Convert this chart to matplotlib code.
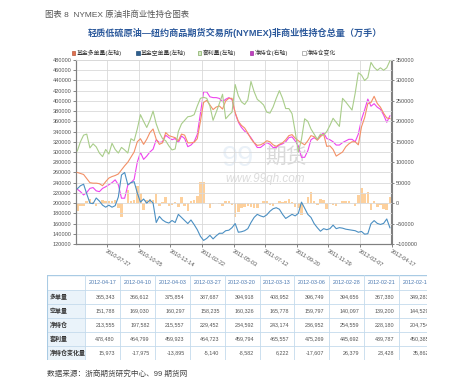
import matplotlib
matplotlib.use('Agg')
import matplotlib.pyplot as plt
import numpy as np
import pandas as pd
from matplotlib.patches import Rectangle

plt.rcParams['font.family'] = ['Liberation Sans', 'Noto Sans CJK SC', 'DejaVu Sans']

# ---------------- data ----------------
dates = pd.date_range('2010-05-25', periods=100, freq='7D')

long_pos = [260000, 258000, 256000, 248000, 240000, 239000, 239000, 238000, 234000, 242000,
            249000, 252000, 254000, 257000, 265000, 273000, 280000, 290000, 300000, 320000,
            326000, 315000, 325000, 338000, 345000, 325000, 315000, 318000, 338000, 332000,
            330000, 328000, 322000, 335000, 333000, 318000, 318000, 319000, 326000, 360000,
            397000, 401000, 392000, 383000, 388000, 390000, 384000, 400000, 405000, 405000,
            377000, 360000, 352000, 347000, 337000, 326000, 318000, 313000, 314000, 317000,
            322000, 320000, 314000, 311000, 315000, 318000, 324000, 332000, 334000, 327000,
            322000, 318000, 314000, 322000, 332000, 330000, 323000, 330000, 335000, 311000,
            312000, 305000, 292000, 296000, 300000, 310000, 316000, 320000, 320000, 314000,
            349283, 367380, 394656, 396749, 408952, 394918, 387687, 375854, 366612, 365343]

short_pos = [228000, 234000, 237000, 218000, 200000, 199000, 210000, 204000, 196000, 192000,
             196000, 192000, 195000, 212000, 255000, 260000, 236000, 240000, 242000, 220000,
             202000, 208000, 200000, 206000, 200000, 162000, 174000, 167000, 163000, 161000,
             166000, 162000, 178000, 172000, 166000, 160000, 167000, 158000, 148000, 135000,
             127000, 131000, 137000, 130000, 136000, 141000, 141000, 146000, 147000, 152000,
             160000, 143000, 144000, 146000, 150000, 162000, 172000, 178000, 175000, 173000,
             177000, 184000, 189000, 191000, 188000, 178000, 170000, 174000, 178000, 175000,
             180000, 202000, 190000, 178000, 172000, 160000, 152000, 145000, 150000, 148000,
             150000, 157000, 150000, 152000, 151000, 149000, 148000, 147000, 146000, 143000,
             144529, 139200, 140097, 159797, 165778, 160326, 158235, 160297, 169030, 151788]

spread_pos = [302000, 320000, 333000, 335000, 308000, 316000, 310000, 298000, 291000, 305000,
              296000, 317000, 305000, 298000, 309000, 304000, 298000, 326000, 322000, 345000,
              373000, 360000, 348000, 362000, 380000, 355000, 338000, 326000, 322000, 312000,
              304000, 306000, 340000, 355000, 362000, 369000, 370000, 373000, 390000, 405000,
              407000, 405000, 390000, 362000, 378000, 395000, 413000, 365000, 372000, 378000,
              432000, 410000, 398000, 393000, 402000, 438000, 418000, 403000, 398000, 392000,
              378000, 376000, 388000, 405000, 420000, 405000, 385000, 385000, 375000, 340000,
              300000, 325000, 365000, 360000, 345000, 335000, 325000, 335000, 333000, 340000,
              352000, 366000, 358000, 350000, 405000, 398000, 390000, 382000, 415000, 455000,
              450385, 439787, 445692, 475269, 465557, 459794, 464723, 459923, 464799, 478480]

net_pos = [34000, 28000, 20000, 26000, 36000, 38000, 30000, 28000, 36000, 40000,
           45000, 50000, 57000, 45000, 12000, 12000, 44000, 50000, 58000, 100000,
           124000, 107000, 115000, 125000, 132000, 155000, 148000, 150000, 166000, 160000,
           155000, 158000, 148000, 164000, 158000, 138000, 142000, 150000, 168000, 220000,
           272000, 272000, 260000, 258000, 258000, 256000, 248000, 254000, 258000, 253000,
           220000, 198000, 185000, 176000, 170000, 160000, 148000, 136000, 136000, 142000,
           148000, 144000, 136000, 136000, 142000, 145000, 150000, 160000, 162000, 152000,
           140000, 112000, 112000, 128000, 155000, 160000, 155000, 165000, 172000, 158000,
           155000, 150000, 142000, 142000, 148000, 152000, 156000, 156000, 150000, 169000,
           204754, 228180, 254559, 236952, 243174, 234592, 229452, 215557, 197582, 213555]

net_chg = [-20000, -6000, -8000, 6000, 10000, 2000, -8000, -2000, 8000, 4000,
           5000, 5000, 7000, -12000, -33000, 0, 32000, 6000, 8000, 42000,
           24000, -17000, 8000, 10000, 7000, 23000, -7000, 2000, 16000, -6000,
           -5000, 3000, -10000, 16000, -6000, -20000, 4000, 8000, 18000, 52000,
           52000, 0, -12000, -2000, 0, -2000, -8000, 6000, 4000, -5000,
           -33000, -22000, -13000, -9000, -6000, -10000, -12000, -12000, 0, 6000,
           6000, -4000, -8000, 0, 6000, 3000, 5000, 10000, 2000, -10000,
           -12000, -28000, 0, 16000, 27000, 5000, -5000, 10000, 7000, -14000,
           -3000, -5000, -8000, 0, 6000, 4000, 4000, 0, -6000, 19000,
           35862, 23428, 26379, -17607, 6222, -8582, -5140, -13895, -17975, 15973]

tbl_dates = ['2012-04-17', '2012-04-10', '2012-04-03', '2012-03-27', '2012-03-20',
             '2012-03-13', '2012-03-06', '2012-02-28', '2012-02-21', '2012-02-14']
tbl_labels = ['多单量', '空单量', '净持仓', '套利量', '净持仓变化量']
tbl_long = [365343, 366612, 375854, 387687, 394918, 408952, 396749, 394656, 367380, 349283]
tbl_short = [151788, 169030, 160297, 158235, 160326, 165778, 159797, 140097, 139200, 144529]
tbl_net = [213555, 197582, 215557, 229452, 234592, 243174, 236952, 254559, 228180, 204754]
tbl_spread = [478480, 464799, 459923, 464723, 459794, 465557, 475269, 445692, 439787, 450385]
tbl_chg = [15973, -17975, -13895, -5140, -8582, 6222, -17607, 26379, 23428, 35862]

legend_labels = ['基金多单量(左轴)', '基金空单量(左轴)', '套利量(左轴)', '净持仓(右轴)', '净持仓变化']

# ---------------- figure ----------------
W, H = 474, 386
fig = plt.figure(figsize=(W / 100, H / 100), dpi=100)
fig.patch.set_facecolor('white')

def fx(px):
    return px / W

def fy(py):
    return 1 - py / H

c_long = '#f39066'
c_short = '#4b8fc2'
c_spread = '#a9cd8a'
c_net = '#ee44ee'
c_bar = '#fdd09c'

ax = fig.add_axes([fx(75.7), fy(244), (391.5 - 75.7) / W, 184 / H])
ax2 = ax.twinx()
x = np.arange(len(dates))

# watermark (behind everything)
ax2.text(fx(222), fy(158), '99', transform=fig.transFigure, fontsize=21, color='#eaf1f8',
         va='center', ha='left', zorder=0)
ax2.text(fx(265), fy(157), '期货', transform=fig.transFigure, fontsize=15, color='#d9d9d9',
         va='center', ha='left', zorder=0, family=['Noto Sans CJK SC'])
ax2.text(fx(225), fy(179), 'www.99qh.com', transform=fig.transFigure, fontsize=8.5,
         color='#dcdcdc', style='italic', va='center', ha='left', zorder=0)

ax2.bar(x, net_chg, width=0.8, color=c_bar, zorder=2, linewidth=0)
ax2.plot(x, net_pos, color=c_net, lw=0.8, zorder=3)
ax.plot(x, long_pos, color=c_long, lw=0.8, zorder=3)
ax.plot(x, short_pos, color=c_short, lw=0.8, zorder=3)
ax.plot(x, spread_pos, color=c_spread, lw=0.8, zorder=3)

ax.set_zorder(ax2.get_zorder() + 1)
ax.patch.set_visible(False)

ax.set_xlim(-0.5, len(dates) - 0.5)
ax.set_ylim(120000, 480000)
ax2.set_ylim(-100000, 350000)
ax.set_yticks(range(120000, 480001, 20000))
ax2.set_yticks(range(-100000, 350001, 50000))

tick_idx = list(range(9, len(dates), 10))
ax.set_xticks([i + 0.5 for i in tick_idx])
ax.set_xticklabels([dates[i].strftime('%Y-%m-%d') for i in tick_idx],
                   rotation=-32, ha='left', va='top', rotation_mode='anchor')

ax.grid(True, color='#d9d9d9', lw=0.6)
ax.set_axisbelow(True)

for a in (ax, ax2):
    a.tick_params(axis='both', labelsize=4, colors='#555555', length=2, width=0.5, pad=1)
    for s in a.spines.values():
        s.set_color('#808080')
        s.set_linewidth(0.8)
    a.spines['top'].set_color('#d9d9d9')
    a.spines['top'].set_linewidth(0.6)
ax.tick_params(axis='x', pad=1.5)

# ---------------- header texts ----------------
fig.text(fx(45), fy(14.5), '图表 8  NYMEX 原油非商业性持仓图表', fontsize=6, color='#555555',
         va='center', ha='left')
fig.text(fx(235), fy(33), '轻质低硫原油—纽约商品期货交易所(NYMEX)非商业性持仓总量（万手）',
         fontsize=6.6, color='#2d5a9c', weight='bold', va='center', ha='center')

# ---------------- legend ----------------
leg_x = [71.5, 136.0, 197.5, 250.0, 302.0]
leg_face = ['#e07050', '#2e5e8e', '#d8ebc8', '#c040c0', '#ffffff']
leg_edge = ['#b85a3c', '#24507a', '#80aa60', '#a030a0', '#999999']
for lx, lab, fc, ec in zip(leg_x, legend_labels, leg_face, leg_edge):
    fig.add_artist(Rectangle((fx(lx), fy(54.5)), 3.5 / W, 3.5 / H, transform=fig.transFigure,
                             facecolor=fc, edgecolor=ec, linewidth=0.5))
    fig.text(fx(lx + 5), fy(52.8), lab, fontsize=4.2, color='#333333', va='center', ha='left')

# ---------------- table ----------------
t_left, t_right, t_top, t_bot = 46.7, 427.0, 275.0, 360.0
tax = fig.add_axes([fx(t_left), fy(t_bot), (t_right - t_left) / W, (t_bot - t_top) / H])
tax.set_xlim(t_left, t_right)
tax.set_ylim(t_bot, t_top)
tax.axis('off')

rb = [275, 290, 304, 318, 332, 346, 360]
cw = 34.9
cb = [t_left, 85.0] + [85.0 + cw * (j + 1) for j in range(10)]
line_c = '#c4dbec'

tax.add_patch(Rectangle((t_left, rb[1]), 85.0 - t_left, rb[-1] - rb[1], facecolor='#eaf3fa',
                        edgecolor='none', zorder=0))
for yv in rb:
    tax.plot([t_left, cb[-1]], [yv, yv], color=line_c, lw=0.6, zorder=1, clip_on=True)
tax.plot([t_left, cb[-1]], [rb[0], rb[0]], color='#a9cbe4', lw=1.0, zorder=1)
for xv in cb:
    tax.plot([xv, xv], [rb[0], rb[-1]], color=line_c, lw=0.6, zorder=1, clip_on=True)
tax.plot([t_left + 0.3, t_left + 0.3], [rb[0], rb[-1]], color='#a9cbe4', lw=0.8, zorder=1)

for j, d in enumerate(tbl_dates):
    tax.text((cb[j + 1] + cb[j + 2]) / 2, (rb[0] + rb[1]) / 2 + 0.5, d, fontsize=3.9,
             color='#4a78b0', ha='center', va='center', clip_on=True)

rows = [tbl_long, tbl_short, tbl_net, tbl_spread, tbl_chg]
for r, (lab, vals) in enumerate(zip(tbl_labels, rows)):
    yc = (rb[r + 1] + rb[r + 2]) / 2
    tax.text(50, yc, lab, fontsize=4.3, color='#333333', weight='bold', ha='left', va='center')
    for j, v in enumerate(vals):
        tax.text(cb[j + 2] - 5, yc, f'{v:,}', fontsize=3.9, color='#555555',
                 ha='right', va='center', clip_on=True)

fig.text(fx(46.7), fy(374), '数据来源：浙商期货研究中心、99 期货网', fontsize=5.5, color='#444444',
         va='center', ha='left')

fig.savefig('out.png', dpi=100)
